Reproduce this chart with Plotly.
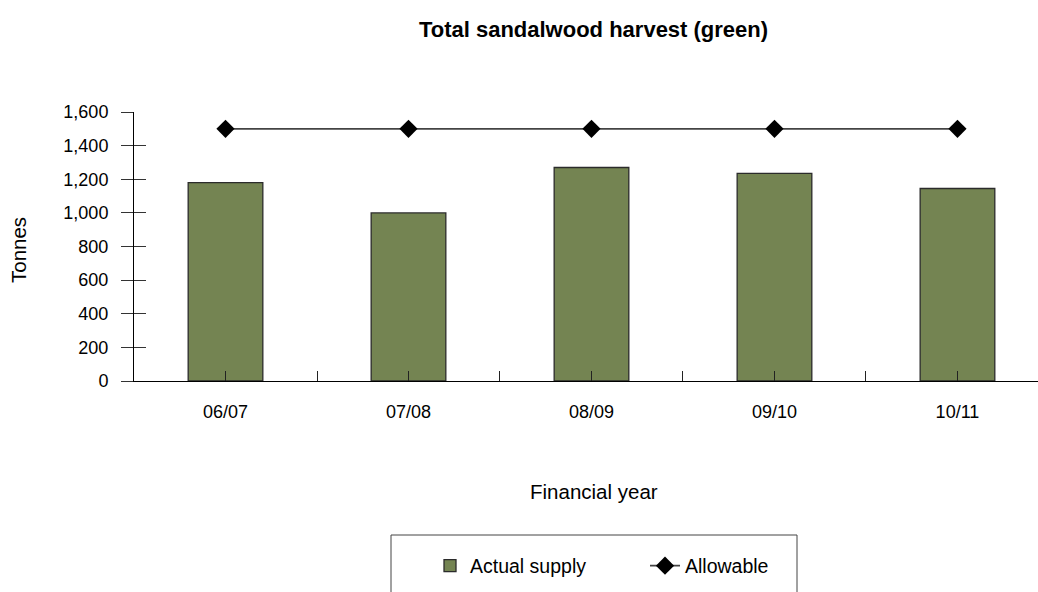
import plotly.graph_objects as go

# Financial years and harvest figures (tonnes)
years = ["06/07", "07/08", "08/09", "09/10", "10/11"]
actual_supply = [1180, 1000, 1270, 1235, 1145]
allowable = [1500, 1500, 1500, 1500, 1500]
y_ticks = [0, 200, 400, 600, 800, 1000, 1200, 1400, 1600]

FONT = "Liberation Sans, Arial, sans-serif"
W, H = 1038, 592
L, R, T, B = 134, 0, 112, 211
PW, PH = W - L - R, H - T - B


def px_x(p):
    return (p - L) / PW


def px_y(p):
    return (H - B - p) / PH


fig = go.Figure()

fig.add_trace(go.Bar(
    x=years, y=actual_supply, name="Actual supply",
    marker=dict(color="#748452", line=dict(color="#2b2b2b", width=1.3)),
    xaxis="x", yaxis="y",
))

fig.add_trace(go.Scatter(
    x=years, y=allowable, name="Allowable", mode="lines+markers",
    line=dict(color="#444444", width=1.8),
    marker=dict(symbol="diamond", size=14, color="black"),
    xaxis="x2", yaxis="y2",
))

x_range = [-0.5, 4.44]
y_range = [0, 1600]

fig.update_layout(
    width=W, height=H,
    margin=dict(l=L, r=R, t=T, b=B, autoexpand=False),
    paper_bgcolor="white", plot_bgcolor="white",
    font=dict(family=FONT, size=18, color="black"),
    bargap=0.592,
    showlegend=True,
    title=dict(
        text="<b>Total sandalwood harvest (green)</b>",
        font=dict(family=FONT, size=22, color="black"),
        x=593.5 / W, xanchor="center", xref="container",
        y=1 - 29 / H, yanchor="middle", yref="container",
    ),
    xaxis=dict(
        type="category", range=x_range, showgrid=False, zeroline=False,
        showline=True, linecolor="black", linewidth=1,
        ticks="inside", ticklen=10, tickcolor="#222", tickwidth=1,
        ticklabelstandoff=14,
        tickfont=dict(size=18),
    ),
    yaxis=dict(
        range=y_range, tickvals=y_ticks, tickformat=",d",
        showgrid=False, zeroline=False,
        showline=True, linecolor="black", linewidth=1,
        ticks="outside", ticklen=12, tickcolor="#333", tickwidth=1,
        ticklabelstandoff=9,
        tickfont=dict(size=18),
    ),
    xaxis2=dict(
        type="category", range=x_range, overlaying="x", anchor="y2",
        side="bottom", tickson="boundaries", showgrid=False, zeroline=False,
        showline=False, ticks="inside", ticklen=10, tickcolor="#222",
        tickwidth=1, showticklabels=False,
    ),
    yaxis2=dict(
        range=y_range, tickvals=y_ticks, overlaying="y", anchor="x2",
        side="left", showgrid=False, zeroline=False, showline=False,
        ticks="inside", ticklen=12, tickcolor="#333", tickwidth=1,
        showticklabels=False,
    ),
    legend=dict(
        orientation="h", x=px_x(430), xanchor="left",
        y=px_y(566), yanchor="middle",
        bgcolor="rgba(0,0,0,0)", borderwidth=0,
        font=dict(size=19.5), entrywidth=170, entrywidthmode="pixels",
    ),
    annotations=[
        dict(text="Tonnes", textangle=-90, x=px_x(18), y=px_y(250),
             xref="paper", yref="paper", showarrow=False,
             xanchor="center", yanchor="middle", font=dict(size=20.5)),
        dict(text="Financial year", x=px_x(594), y=px_y(491),
             xref="paper", yref="paper", showarrow=False,
             xanchor="center", yanchor="middle", font=dict(size=20.5)),
    ],
    shapes=[
        dict(type="rect", xref="paper", yref="paper",
             x0=px_x(391), x1=px_x(797), y0=px_y(600), y1=px_y(535),
             line=dict(color="#444", width=1), fillcolor="rgba(0,0,0,0)"),
    ],
)

fig.write_html("out.html")
